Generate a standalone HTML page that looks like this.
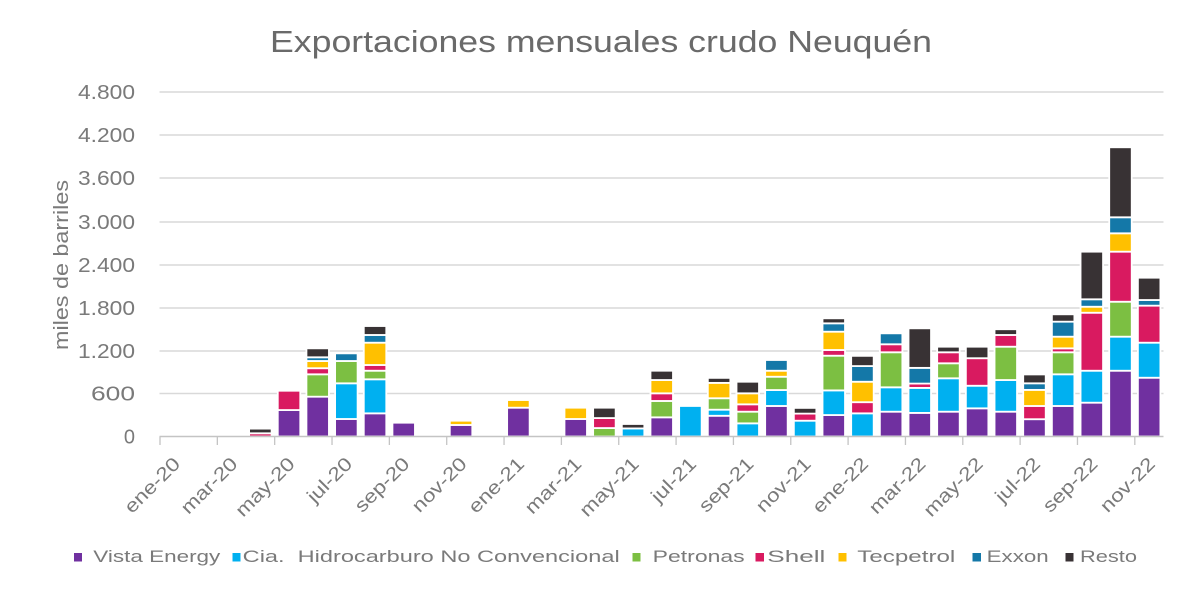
<!DOCTYPE html>
<html>
<head>
<meta charset="utf-8">
<style>
  html, body { margin: 0; padding: 0; background: #ffffff; }
  svg { display: block; }
  text { font-family: "Liberation Sans", "DejaVu Sans", sans-serif; }
</style>
</head>
<body>
<svg id="chart" width="1200" height="592" viewBox="0 0 1200 592" xmlns="http://www.w3.org/2000/svg">
  <rect x="0" y="0" width="1200" height="592" fill="#ffffff"/>

  <!-- Title -->
  <text x="270" y="52" font-size="31" fill="#6a6a6a" textLength="662" lengthAdjust="spacingAndGlyphs">Exportaciones mensuales crudo Neuquén</text>

  <!-- Gridlines -->
  <g stroke="#d9d9d9" stroke-width="1.4">
    <line x1="159.5" y1="92" x2="1163.5" y2="92"/>
    <line x1="159.5" y1="135" x2="1163.5" y2="135"/>
    <line x1="159.5" y1="178" x2="1163.5" y2="178"/>
    <line x1="159.5" y1="222" x2="1163.5" y2="222"/>
    <line x1="159.5" y1="265" x2="1163.5" y2="265"/>
    <line x1="159.5" y1="308" x2="1163.5" y2="308"/>
    <line x1="159.5" y1="351" x2="1163.5" y2="351"/>
    <line x1="159.5" y1="393.5" x2="1163.5" y2="393.5"/>
  </g>

  <!-- Y labels -->
  <g font-size="20" fill="#7a7a7a" text-anchor="end">
    <text x="135" y="99" textLength="57" lengthAdjust="spacingAndGlyphs">4.800</text>
    <text x="135" y="142" textLength="57" lengthAdjust="spacingAndGlyphs">4.200</text>
    <text x="135" y="185" textLength="57" lengthAdjust="spacingAndGlyphs">3.600</text>
    <text x="135" y="229" textLength="57" lengthAdjust="spacingAndGlyphs">3.000</text>
    <text x="135" y="272" textLength="57" lengthAdjust="spacingAndGlyphs">2.400</text>
    <text x="135" y="315" textLength="57" lengthAdjust="spacingAndGlyphs">1.800</text>
    <text x="135" y="358" textLength="57" lengthAdjust="spacingAndGlyphs">1.200</text>
    <text x="135" y="400.5" textLength="44" lengthAdjust="spacingAndGlyphs">600</text>
    <text x="135" y="443.5">0</text>
  </g>

  <!-- Y axis title -->
  <text transform="translate(68,265) rotate(-90)" text-anchor="middle" font-size="20" fill="#7a7a7a" textLength="170" lengthAdjust="spacingAndGlyphs">miles de barriles</text>

  <!-- Bars -->
  <g id="bars"></g>

  <!-- X axis -->
  <line x1="159.5" y1="436.5" x2="1163.5" y2="436.5" stroke="#c4c4c4" stroke-width="1.5"/>
  <g stroke="#c4c4c4" stroke-width="1.3" id="ticks"></g>

  <!-- X labels -->
  <g font-size="19" fill="#7a7a7a" text-anchor="end">
    <text transform="translate(181.3,465) rotate(-45) scale(1.18,1)">ene-20</text>
    <text transform="translate(238.7,465) rotate(-45) scale(1.18,1)">mar-20</text>
    <text transform="translate(296.0,465) rotate(-45) scale(1.18,1)">may-20</text>
    <text transform="translate(353.4,465) rotate(-45) scale(1.18,1)">jul-20</text>
    <text transform="translate(410.7,465) rotate(-45) scale(1.18,1)">sep-20</text>
    <text transform="translate(468.0,465) rotate(-45) scale(1.18,1)">nov-20</text>
    <text transform="translate(525.4,465) rotate(-45) scale(1.18,1)">ene-21</text>
    <text transform="translate(582.7,465) rotate(-45) scale(1.18,1)">mar-21</text>
    <text transform="translate(640.1,465) rotate(-45) scale(1.18,1)">may-21</text>
    <text transform="translate(697.4,465) rotate(-45) scale(1.18,1)">jul-21</text>
    <text transform="translate(754.8,465) rotate(-45) scale(1.18,1)">sep-21</text>
    <text transform="translate(812.1,465) rotate(-45) scale(1.18,1)">nov-21</text>
    <text transform="translate(869.4,465) rotate(-45) scale(1.18,1)">ene-22</text>
    <text transform="translate(926.8,465) rotate(-45) scale(1.18,1)">mar-22</text>
    <text transform="translate(984.1,465) rotate(-45) scale(1.18,1)">may-22</text>
    <text transform="translate(1041.5,465) rotate(-45) scale(1.18,1)">jul-22</text>
    <text transform="translate(1098.8,465) rotate(-45) scale(1.18,1)">sep-22</text>
    <text transform="translate(1156.2,465) rotate(-45) scale(1.18,1)">nov-22</text>
  </g>

  <!-- Legend -->
  <g>
    <rect x="74" y="553" width="8" height="8.5" fill="#7030A0"/>
    <text x="93.3" y="562" font-size="17" fill="#7a7a7a" textLength="127" lengthAdjust="spacingAndGlyphs">Vista Energy</text>
    <rect x="232.5" y="553" width="8" height="8.5" fill="#00B0F0"/>
    <text x="242.7" y="562" font-size="17" fill="#7a7a7a" textLength="377" lengthAdjust="spacingAndGlyphs" xml:space="preserve">Cia.  Hidrocarburo No Convencional</text>
    <rect x="632.5" y="553" width="8" height="8.5" fill="#7CBF42"/>
    <text x="652.7" y="562" font-size="17" fill="#7a7a7a" textLength="92" lengthAdjust="spacingAndGlyphs">Petronas</text>
    <rect x="755.5" y="553" width="8.5" height="8.5" fill="#D91A60"/>
    <text x="767.3" y="562" font-size="17" fill="#7a7a7a" textLength="58" lengthAdjust="spacingAndGlyphs">Shell</text>
    <rect x="838.5" y="553" width="8" height="8.5" fill="#FFC000"/>
    <text x="857.3" y="562" font-size="17" fill="#7a7a7a" textLength="98" lengthAdjust="spacingAndGlyphs">Tecpetrol</text>
    <rect x="972.5" y="553" width="8.5" height="8.5" fill="#1478A8"/>
    <text x="986.7" y="562" font-size="17" fill="#7a7a7a" textLength="62" lengthAdjust="spacingAndGlyphs">Exxon</text>
    <rect x="1065.5" y="553" width="8" height="8.5" fill="#383234"/>
    <text x="1080" y="562" font-size="17" fill="#7a7a7a" textLength="57" lengthAdjust="spacingAndGlyphs">Resto</text>
  </g>
</svg>

<script>
(function(){
  var NS = "http://www.w3.org/2000/svg";
  var colors = {V:'#7030A0',C:'#00B0F0',P:'#7CBF42',S:'#D91A60',T:'#FFC000',E:'#1478A8',R:'#383234'};
  var data = {
    3:[['S',45],['R',110]],
    4:[['V',370],['S',640]],
    5:[['V',557],['P',870],['S',955],['T',1056],['E',1108],['R',1233]],
    6:[['V',245],['C',744],['P',1056],['E',1163]],
    7:[['V',324],['C',800],['P',920],['S',1000],['T',1312],['E',1420],['R',1545]],
    8:[['V',193]],
    10:[['V',161],['T',221]],
    12:[['V',403],['T',510]],
    14:[['V',245],['T',403]],
    15:[['P',118],['S',258],['R',403]],
    16:[['C',113],['R',175]],
    17:[['V',268],['P',497],['S',604],['T',790],['R',920]],
    18:[['C',427]],
    19:[['V',290],['C',375],['P',535],['T',750],['R',820]],
    20:[['C',184],['P',347],['S',450],['T',604],['R',766]],
    21:[['V',427],['C',650],['P',836],['T',920],['E',1070]],
    22:[['C',221],['S',320],['R',400]],
    23:[['V',300],['C',645],['P',1130],['S',1210],['T',1466],['E',1583],['R',1653]],
    24:[['C',324],['S',480],['T',766],['E',985],['R',1128]],
    25:[['V',347],['C',688],['P',1178],['S',1290],['E',1443]],
    26:[['V',330],['C',680],['S',740],['E',960],['R',1513]],
    27:[['V',347],['C',814],['P',1024],['S',1178],['R',1256]],
    28:[['V',394],['C',710],['S',1095],['R',1256]],
    29:[['V',347],['C',790],['P',1256],['S',1420],['R',1500]],
    30:[['V',242],['S',427],['T',652],['E',744],['R',868]],
    31:[['V',427],['C',870],['P',1178],['S',1233],['T',1396],['E',1606],['R',1709]],
    32:[['V',473],['C',920],['S',1731],['T',1815],['E',1919],['R',2585]],
    33:[['V',920],['C',1396],['P',1885],['S',2585],['T',2842],['E',3066],['R',4045]],
    34:[['V',822],['C',1312],['S',1830],['E',1909],['R',2221]]
  };
  var g = document.getElementById('bars');
  var base = 436.5, k = 0.0715, cw = 28.671, bw = 22.5;
  function y(v){ return v <= 0 ? base : base - v*k; }
  for (var i in data){
    var cx = 160 + (parseInt(i,10)+0.5)*cw;
    var prev = 0;
    data[i].forEach(function(seg){
      var y0 = y(prev), y1 = y(seg[1]);
      var r = document.createElementNS(NS,'rect');
      r.setAttribute('x', (cx - bw/2).toFixed(2));
      r.setAttribute('y', y1.toFixed(2));
      r.setAttribute('width', bw);
      r.setAttribute('height', Math.max(0.5, y0 - y1).toFixed(2));
      r.setAttribute('fill', colors[seg[0]]);
      r.setAttribute('stroke', '#ffffff');
      r.setAttribute('stroke-width', '1.8');
      g.appendChild(r);
      prev = seg[1];
    });
  }
  var t = document.getElementById('ticks');
  for (var j=0;j<=17;j++){
    var x = 160 + j*2*cw;
    var l = document.createElementNS(NS,'line');
    l.setAttribute('x1', x.toFixed(2)); l.setAttribute('x2', x.toFixed(2));
    l.setAttribute('y1', '436.5'); l.setAttribute('y2', '445');
    t.appendChild(l);
  }
})();
</script>
</body>
</html>
